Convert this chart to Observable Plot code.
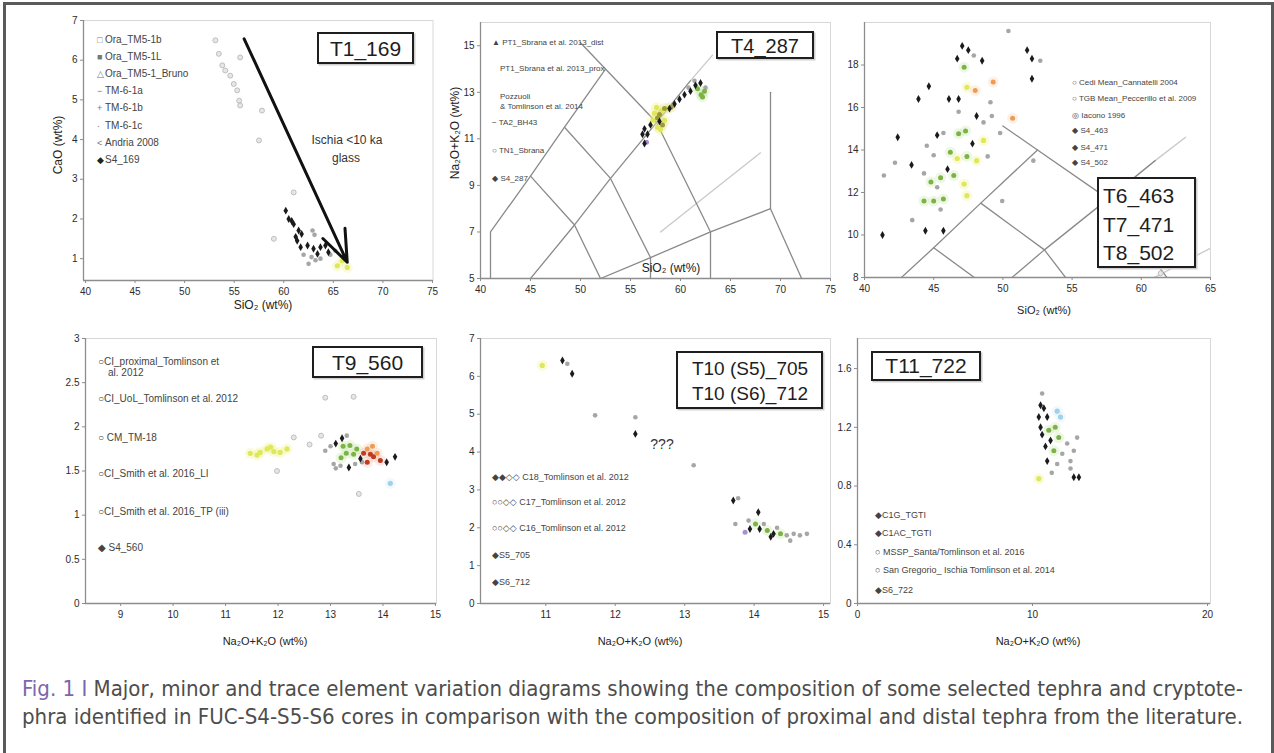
<!DOCTYPE html>
<html>
<head>
<meta charset="utf-8">
<script src="https://cdn.jsdelivr.net/npm/d3@7"></script>
<script src="https://cdn.jsdelivr.net/npm/@observablehq/plot@0.6"></script>
<style>
html,body{margin:0;padding:0;background:#fff;}
#page{position:relative;width:1274px;height:753px;overflow:hidden;background:#fff;}
#frame{position:absolute;left:3px;top:2px;width:1271px;height:780px;border:3px solid #5a5a5a;box-sizing:border-box;pointer-events:none;}
#page svg{position:absolute;}
</style>
</head>
<body>
<div id="page"><div id="frame"></div></div>
<script>
// ================= DATA =================
// group codes: k=black diamond, g=grey, l=light grey open, y=yellow, o=olive, n=green, r=red, a=orange, b=light blue, p=purple

// Panel 1: SiO2 vs CaO (T1_169)
const p1_sio2 = [53.1,53.45,53.8,54.1,54.6,54.96,55.3,55.5,55.6,55.6,57.8,57.5,61.0,59.0,
  60.2,60.5,61.0,61.5,61.8,61.35,61.7,62.4,63.0,63.7,64.2,63.4,64.5,60.8,61.2,
  62.5,62.8,63.2,63.7,64.7,65.2,62.9,63.1,62.0,
  65.4,66.4,65.9];
const p1_cao = [6.5,6.16,5.87,5.74,5.61,5.4,5.24,4.98,4.86,6.07,4.73,3.98,2.67,1.5,
  2.21,2.0,1.87,1.71,1.62,1.45,1.29,1.33,1.25,1.29,1.33,1.12,1.16,1.95,1.55,
  0.87,1.04,0.96,1.0,1.1,1.2,1.71,1.6,1.1,
  0.82,0.78,0.95];
const p1_group = ["l","l","l","l","l","l","l","l","l","l","l","l","l","l",
  "k","k","k","k","k","k","k","k","k","k","k","k","k","k","k",
  "g","g","g","g","g","g","g","g","g",
  "y","y","y"];
const p1_trend_sio2 = [56.0, 66.4];
const p1_trend_cao = [6.54, 0.91];
const p1_legend = ["Ora_TM5-1b","Ora_TM5-1L","Ora_TM5-1_Bruno","TM-6-1a","TM-6-1b","TM-6-1c","Andria 2008","S4_169"];
const p1_legend_sym = ["□","■","△","−","+","·","<","◆"];

// Panel 2: TAS (T4_287)
const p2_sio2 = [56.4,56.2,56.7,56.4,57.0,59.4,59.9,60.4,61.0,61.5,62.0,58.9,57.9,
  57.4,58.05,58.4,57.7,58.7,57.25,58.0,57.6,
  57.7,58.4,59.06,58.2,57.9,
  61.7,62.06,62.2,62.4,
  61.4,62.5,60.8,
  56.6];
const p2_alk = [11.43,11.2,11.2,10.8,11.6,12.5,12.7,12.9,13.05,13.3,13.4,12.3,11.75,
  12.1,12.2,11.8,11.5,12.3,11.8,11.4,12.35,
  11.9,12.3,12.36,11.6,12.05,
  13.15,12.9,12.8,13.05,
  13.5,13.2,13.2,
  10.85];
const p2_group = ["k","k","k","k","k","k","k","k","k","k","k","k","k",
  "y","y","y","y","y","y","y","y",
  "o","o","o","o","o",
  "n","n","n","n",
  "g","g","g",
  "p"];
const p2_legend = ["▲ PT1_Sbrana et al. 2013_dist","PT1_Sbrana et al. 2013_prox","Pozzuoli","& Tomlinson et al. 2014","− TA2_BH43","○ TN1_Sbrana","◆ S4_287"];

// TAS classification boundaries (SiO2, Na2O+K2O)
const tas_boundaries = [
  [[41,0],[41,7],[45,9.4],[48.4,11.5],[52.5,14]],
  [[50,15.13],[52.5,14],[57.6,11.7],[63,7],[63,0]],
  [[45,0],[45,5],[49.4,7.3],[53,9.3],[57.6,11.7],[61,13.5]],
  [[45,9.4],[49.4,7.3],[52,5],[52,0]],
  [[48.4,11.5],[53,9.3],[57,5.9],[57,0]],
  [[52,5],[57,5.9],[63,7],[69,8],[77.3,0]],
  [[69,8],[69,13]]
];
const tas_light = [
  [[61,13.5],[63.2,14.6]],
  [[58,7],[68,10.4]]
];

// Panel 3: TAS (T6/T7/T8)
const p3_sio2 = [47.06,47.5,46.7,48.5,51.75,52.1,52.1,44.65,43.9,46.1,46.8,42.4,43.4,41.3,48.1,45.25,47.8,46.0,44.4,45.7,
  50.4,47.9,52.7,49.1,46.8,48.6,49.2,49.8,45.7,44.5,42.2,41.4,45.0,48.9,44.3,45.25,45.5,49.95,43.45,52.2,61.4,
  47.2,46.8,47.3,46.2,47.4,44.8,45.5,46.45,44.3,45.0,45.7,
  47.4,48.6,46.7,48.1,47.2,47.4,
  50.7,49.3,48.0];
const p3_alk = [18.9,18.7,18.3,18.2,18.7,18.3,17.35,17.0,16.4,16.4,16.4,14.6,13.3,10.0,15.6,14.7,14.3,13.1,10.2,10.2,
  19.6,18.45,18.2,16.25,15.8,15.3,15.6,14.8,14.8,14.2,13.4,12.8,13.75,13.7,12.9,12.25,11.2,11.6,10.7,13.5,8.2,
  17.9,14.76,14.9,13.9,13.7,12.5,12.7,12.8,11.6,11.6,11.7,
  16.95,14.45,13.6,13.5,12.4,11.85,
  15.5,17.2,16.8];
const p3_group = ["k","k","k","k","k","k","k","k","k","k","k","k","k","k","k","k","k","k","k","k",
  "g","g","g","g","g","g","g","g","g","g","g","g","g","g","g","g","g","g","g","g","l",
  "n","n","n","n","n","n","n","n","n","n","n",
  "y","y","y","y","y","y",
  "a","a","a"];
const p3_legend = ["○ Cedi Mean_Cannatelli 2004","○ TGB Mean_Peccerillo et al. 2009","◎ Iacono 1996","◆ S4_463","◆ S4_471","◆ S4_502"];

// Panel 4: Na2O+K2O (T9_560)
const p4_alk = [11.47,11.66,11.79,11.92,12.04,12.17,11.86,11.6,
  12.3,12.6,11.98,12.82,13.44,12.9,13.54,
  12.9,13.0,13.06,13.19,13.1,13.6,13.31,13.47,
  13.22,13.35,14.07,14.23,13.1,13.57,
  13.24,13.3,13.37,13.44,13.2,13.5,
  13.63,13.76,13.82,13.95,13.7,
  13.7,13.89,13.8,
  14.14];
const p4_val = [1.70,1.71,1.75,1.72,1.71,1.75,1.77,1.68,
  1.88,1.8,1.5,1.9,2.34,2.33,1.24,
  1.73,1.78,1.58,1.56,1.53,1.6,1.9,1.58,
  1.87,1.54,1.6,1.66,1.81,1.64,
  1.78,1.7,1.79,1.69,1.65,1.75,
  1.7,1.69,1.66,1.62,1.6,
  1.75,1.70,1.78,
  1.36];
const p4_group = ["y","y","y","y","y","y","y","y",
  "l","l","l","l","l","l","l",
  "g","g","g","g","g","g","g","g",
  "k","k","k","k","k","k",
  "n","n","n","n","n","n",
  "r","r","r","r","r",
  "a","a","a",
  "b"];
const p4_legend = ["○CI_proximal_Tomlinson et","al. 2012","○CI_UoL_Tomlinson et al. 2012","○ CM_TM-18","○CI_Smith et al. 2016_LI","○CI_Smith et al. 2016_TP (iii)","◆ S4_560"];

// Panel 5: Na2O+K2O (T10)
const p5_alk = [10.95,
  11.24,11.38,12.29,13.7,14.06,13.94,14.08,14.28,14.24,
  11.31,11.71,12.29,13.13,13.77,13.92,14.14,14.47,14.57,14.66,14.76,14.52,13.73,14.33,
  14.02,14.19,14.38,
  13.87];
const p5_val = [6.29,
  6.42,6.07,4.48,2.72,2.41,1.97,1.97,1.84,1.76,
  6.33,4.97,4.92,3.65,2.78,2.19,2.1,1.8,1.84,1.8,1.84,1.66,2.1,2.0,
  2.1,1.93,1.84,
  1.88];
const p5_group = ["y",
  "k","k","k","k","k","k","k","k","k",
  "g","g","g","g","g","g","g","g","g","g","g","g","g","g",
  "n","n","n",
  "p"];
const p5_legend = ["◆◆◇◇ C18_Tomlinson et al. 2012","○○◇◇ C17_Tomlinson et al. 2012","○○◇◇ C16_Tomlinson et al. 2012","◆S5_705","◆S6_712"];

// Panel 6: Na2O+K2O (T11_722)
const p6_alk = [10.55,11.7,11.98,12.36,11.41,12.17,11.1,12.55,12.17,
  10.46,10.65,10.36,10.84,10.46,11.03,10.74,10.84,12.36,12.65,10.55,
  10.93,11.3,11.5,11.22,
  11.41,11.6,
  10.36];
const p6_val = [1.43,1.02,1.09,1.04,0.95,0.97,0.89,1.13,0.92,
  1.35,1.33,1.27,1.27,1.2,1.11,1.07,0.97,0.86,0.86,1.15,
  1.18,1.2,1.13,1.04,
  1.31,1.27,
  0.85];
const p6_group = ["g","g","g","g","g","g","g","g","g",
  "k","k","k","k","k","k","k","k","k","k","k",
  "n","n","n","n",
  "b","b",
  "y"];
const p6_legend = ["◆C1G_TGTI","◆C1AC_TGTI","○ MSSP_Santa/Tomlinson et al. 2016","○ San Gregorio_ Ischia Tomlinson et al. 2014","◆S6_722"];

// Tick values
const ticks_sio2 = [40,45,50,55,60,65,70,75];
const ticks_sio2_b = [40,45,50,55,60,65];
const ticks_cao = [1,2,3,4,5,6,7];
const ticks_tas = [5,7,9,11,13,15];
const ticks_tas_b = [8,10,12,14,16,18];
const ticks_p4x = [9,10,11,12,13,14,15];
const ticks_p4y = [0,0.5,1,1.5,2,2.5,3];
const ticks_p5x = [11,12,13,14,15];
const ticks_p5y = [0,1,2,3,4,5,6,7];
const ticks_p6x = [0,10,20];
const ticks_p6y = [0,0.4,0.8,1.2,1.6];

// Caption
const caption_lead = "Fig. 1 I ";
const caption_line1 = "Major, minor and trace element variation diagrams showing the composition of some selected tephra and cryptote-";
const caption_line2 = "phra identified in FUC-S4-S5-S6 cores in comparison with the composition of proximal and distal tephra from the literature.";

// ================= STYLES =================
const FONT = "'Liberation Sans', Arial, 'DejaVu Sans', sans-serif";
const STY = {
  l: {symbol: "circle", fill: "#e6e6e6", stroke: "#b3b3b3", strokeWidth: 0.8, r: 2.5},
  g: {symbol: "circle", fill: "#a6a6a6", r: 2.3},
  y: {symbol: "circle", fill: "#dfe85a", r: 2.6},
  o: {symbol: "circle", fill: "#9c9b3a", r: 2.5},
  n: {symbol: "circle", fill: "#7cb345", r: 2.5},
  r: {symbol: "circle", fill: "#c13b1f", r: 2.5},
  a: {symbol: "circle", fill: "#ee9b55", r: 2.5},
  b: {symbol: "circle", fill: "#9fd2ea", r: 2.6},
  p: {symbol: "circle", fill: "#a88ed2", r: 2.5},
  k: {symbol: "diamond", fill: "#1b1b1b", r: 2.4}
};
const HALO = {y: "#eef28a", n: "#c6e3a5", a: "#f6cfa6", r: "#f0b8a8", b: "#d4ecf7", o: "#dedc9c"};

function rows(xs, ys, gs) { return xs.map((x, i) => ({x, y: ys[i], g: gs[i]})); }
function dotMarks(data) {
  const out = [];
  for (const k of Object.keys(HALO)) {
    const d = data.filter(r => r.g === k);
    if (d.length) out.push(Plot.dot(d, {x: "x", y: "y", r: 5.5, fill: HALO[k], fillOpacity: 0.3, stroke: "none"}));
  }
  for (const k of Object.keys(STY)) {
    const d = data.filter(r => r.g === k);
    if (d.length) out.push(Plot.dot(d, {x: "x", y: "y", stroke: "none", ...STY[k]}));
  }
  return out;
}
function tasRows(lines) {
  const out = [];
  lines.forEach((ln, id) => ln.forEach(([x, y]) => out.push({id, x, y})));
  return out;
}

function layer(offX, offY, draw) {
  return () => {
    const g = d3.create("svg:g").attr("transform", `translate(${-offX},${-offY})`);
    draw(g);
    return g.node();
  };
}
function txt(g, x, y, s, o = {}) {
  const t = g.append("text").attr("x", x).attr("y", y)
    .attr("font-family", o.family || FONT).attr("font-size", o.size || 10)
    .attr("fill", o.fill || "#333").attr("text-anchor", o.anchor || "start");
  if (o.weight) t.attr("font-weight", o.weight);
  if (o.rotate) t.attr("transform", `rotate(${o.rotate},${x},${y})`);
  t.text(s);
  return t;
}
function box(g, x0, y0, x1, y1) {
  g.append("rect").attr("x", x0 + 1.5).attr("y", y0 + 1.5).attr("width", x1 - x0).attr("height", y1 - y0)
    .attr("fill", "none").attr("stroke", "#cfcfcf").attr("stroke-width", 2);
  g.append("rect").attr("x", x0).attr("y", y0).attr("width", x1 - x0).attr("height", y1 - y0)
    .attr("fill", "#fff").attr("stroke", "#1e1e1e").attr("stroke-width", 2);
}
function legend(g, labels, xs, ys, size, fill = "#444") {
  labels.forEach((s, i) => txt(g, xs[i], ys[i], s, {size, fill}));
}
const fmt = d => `${d}`;

function panel(cfg) {
  const mL = 60, mR = 20, mT = 14, mB = 50;
  const width = cfg.ax1 - cfg.ax0 + mL + mR;
  const height = cfg.ay1 - cfg.ay0 + mT + mB;
  const offX = cfg.ax0 - mL, offY = cfg.ay0 - mT;
  const marks = [
    Plot.frame({stroke: "#d8d8d8"}),
    ...(cfg.under || []),
    Plot.ruleX([cfg.xDomain[0]], {stroke: "#8d8d8d", strokeWidth: 1.3}),
    Plot.ruleY([cfg.yDomain[0]], {stroke: "#8d8d8d", strokeWidth: 1.3}),
    Plot.axisX(cfg.xTicks, {tickSize: 3, tickPadding: 4, fontSize: 10, fill: "#2b2b2b", stroke: "#8d8d8d", label: null, tickFormat: fmt}),
    Plot.axisY(cfg.yTicks, {tickSize: 3, tickPadding: 3, fontSize: 10, fill: "#2b2b2b", stroke: "#8d8d8d", label: null, tickFormat: fmt}),
    ...dotMarks(cfg.rows),
    ...(cfg.over || []),
    layer(offX, offY, cfg.decor)
  ];
  const svg = Plot.plot({
    width, height, marginLeft: mL, marginRight: mR, marginTop: mT, marginBottom: mB,
    x: {domain: cfg.xDomain, label: null},
    y: {domain: cfg.yDomain, label: null},
    style: {fontFamily: FONT, fontSize: "10px", background: "transparent", overflow: "visible"},
    marks
  });
  svg.style.left = offX + "px";
  svg.style.top = offY + "px";
  svg.style.maxWidth = "none";
  document.getElementById("page").appendChild(svg);
}

const tasDark = tasRows(tas_boundaries);
const tasLight = tasRows(tas_light);
const tasMarks = [
  Plot.line(tasLight, {x: "x", y: "y", z: "id", stroke: "#c9c9c9", strokeWidth: 1.3, clip: true}),
  Plot.line(tasDark, {x: "x", y: "y", z: "id", stroke: "#8a8a8a", strokeWidth: 1.3, clip: true})
];

// ---------- Panel 1 ----------
panel({
  ax0: 83, ax1: 432.5, ay0: 20, ay1: 280,
  xDomain: [39.8, 75.05], yDomain: [0.45, 7],
  xTicks: ticks_sio2, yTicks: ticks_cao,
  rows: rows(p1_sio2, p1_cao, p1_group),
  over: [Plot.arrow([{x1: p1_trend_sio2[0], y1: p1_trend_cao[0], x2: p1_trend_sio2[1], y2: p1_trend_cao[1]}],
    {x1: "x1", y1: "y1", x2: "x2", y2: "y2", stroke: "#111", strokeWidth: 3, headLength: 17, headAngle: 42})],
  decor: g => {
    txt(g, 62, 145, "CaO (wt%)", {size: 12, anchor: "middle", rotate: -90, fill: "#222"});
    txt(g, 263, 309, "SiO₂ (wt%)", {size: 12, anchor: "middle", fill: "#222"});
    txt(g, 347, 144, "Ischia <10 ka", {size: 12, anchor: "middle", fill: "#333"});
    txt(g, 346, 162, "glass", {size: 12, anchor: "middle", fill: "#333"});
    box(g, 318, 33, 413, 63);
    txt(g, 365.5, 56, "T1_169", {size: 21, anchor: "middle", fill: "#1e1e1e"});
    p1_legend.forEach((s, i) => {
      const y = 43 + i * 17.1;
      txt(g, 97, y, p1_legend_sym[i], {size: 9, fill: i === 7 ? "#222" : "#777"});
      txt(g, 105, y, s, {size: 10, fill: "#444"});
    });
  }
});

// ---------- Panel 2 ----------
panel({
  ax0: 480, ax1: 830, ay0: 22, ay1: 278,
  xDomain: [40, 75], yDomain: [5, 16],
  xTicks: ticks_sio2, yTicks: ticks_tas,
  rows: rows(p2_sio2, p2_alk, p2_group),
  under: tasMarks,
  decor: g => {
    txt(g, 459, 133, "Na₂O+K₂O (wt%)", {size: 12, anchor: "middle", rotate: -90, fill: "#222"});
    txt(g, 671, 272, "SiO₂ (wt%)", {size: 12, anchor: "middle", fill: "#222"});
    box(g, 717, 32, 813, 58);
    txt(g, 765, 53, "T4_287", {size: 20, anchor: "middle", fill: "#1e1e1e"});
    legend(g, p2_legend, [492, 500, 500, 500, 492, 492, 492], [45, 71, 99, 109, 125, 153, 181], 8);
  }
});

// ---------- Panel 3 ----------
panel({
  ax0: 864, ax1: 1210, ay0: 22, ay1: 277,
  xDomain: [40, 65], yDomain: [8, 20],
  xTicks: ticks_sio2_b, yTicks: ticks_tas_b,
  rows: rows(p3_sio2, p3_alk, p3_group),
  under: tasMarks,
  decor: g => {
    txt(g, 1044, 314, "SiO₂ (wt%)", {size: 11, anchor: "middle", fill: "#222"});
    legend(g, p3_legend, [1072, 1072, 1072, 1072, 1072, 1072], [85, 101, 118, 133, 150, 165], 8);
    box(g, 1098, 178, 1195, 267);
    txt(g, 1103, 203, "T6_463", {size: 21, fill: "#1e1e1e"});
    txt(g, 1103, 232, "T7_471", {size: 21, fill: "#1e1e1e"});
    txt(g, 1103, 260, "T8_502", {size: 21, fill: "#1e1e1e"});
  }
});

// ---------- Panel 4 ----------
panel({
  ax0: 85, ax1: 436, ay0: 338, ay1: 603,
  xDomain: [8.33, 15.02], yDomain: [0, 3],
  xTicks: ticks_p4x, yTicks: ticks_p4y,
  rows: rows(p4_alk, p4_val, p4_group),
  decor: g => {
    txt(g, 265, 645, "Na₂O+K₂O (wt%)", {size: 11, anchor: "middle", fill: "#222"});
    box(g, 313, 347, 422, 377);
    txt(g, 367.5, 370, "T9_560", {size: 21, anchor: "middle", fill: "#1e1e1e"});
    legend(g, p4_legend, [98, 108, 98, 98, 98, 98, 98], [365, 376, 402, 441, 477, 515, 551], 10);
  }
});

// ---------- Panel 5 ----------
panel({
  ax0: 480, ax1: 830, ay0: 338, ay1: 603,
  xDomain: [10.06, 15.1], yDomain: [0, 7],
  xTicks: ticks_p5x, yTicks: ticks_p5y,
  rows: rows(p5_alk, p5_val, p5_group),
  decor: g => {
    txt(g, 640, 645, "Na₂O+K₂O (wt%)", {size: 11, anchor: "middle", fill: "#222"});
    box(g, 677, 352, 822, 408);
    txt(g, 750, 375, "T10 (S5)_705", {size: 19, anchor: "middle", fill: "#1e1e1e"});
    txt(g, 750, 400, "T10 (S6)_712", {size: 19, anchor: "middle", fill: "#1e1e1e"});
    txt(g, 662, 449, "???", {size: 14, anchor: "middle", fill: "#333"});
    legend(g, p5_legend, [492, 492, 492, 492, 492], [480, 505, 531, 558, 585], 9);
  }
});

// ---------- Panel 6 ----------
panel({
  ax0: 857, ax1: 1210, ay0: 338, ay1: 603,
  xDomain: [0, 20.17], yDomain: [0, 1.805],
  xTicks: ticks_p6x, yTicks: ticks_p6y,
  rows: rows(p6_alk, p6_val, p6_group),
  decor: g => {
    txt(g, 1038, 645, "Na₂O+K₂O (wt%)", {size: 11, anchor: "middle", fill: "#222"});
    box(g, 872, 352, 980, 380);
    txt(g, 926, 373, "T11_722", {size: 21, anchor: "middle", fill: "#1e1e1e"});
    legend(g, p6_legend, [875, 875, 875, 875, 875], [518, 536, 555, 573, 593], 9);
  }
});

// ---------- Caption ----------
const cap = d3.select("#page").append("svg")
  .attr("width", 1274).attr("height", 753)
  .style("left", "0px").style("top", "0px").style("pointer-events", "none");
const capFont = "'DejaVu Sans Condensed', 'DejaVu Sans', sans-serif";
const l1 = cap.append("text").attr("x", 22).attr("y", 696)
  .attr("font-family", capFont).attr("font-stretch", "condensed").attr("font-size", 20.5)
  .attr("fill", "#4d4d4d").attr("textLength", 1221).attr("lengthAdjust", "spacingAndGlyphs");
l1.append("tspan").attr("fill", "#7e65ad").text(caption_lead);
l1.append("tspan").text(caption_line1);
cap.append("text").attr("x", 22).attr("y", 724)
  .attr("font-family", capFont).attr("font-stretch", "condensed").attr("font-size", 20.5)
  .attr("fill", "#4d4d4d").attr("textLength", 1221).attr("lengthAdjust", "spacingAndGlyphs")
  .text(caption_line2);
</script>
</body>
</html>
